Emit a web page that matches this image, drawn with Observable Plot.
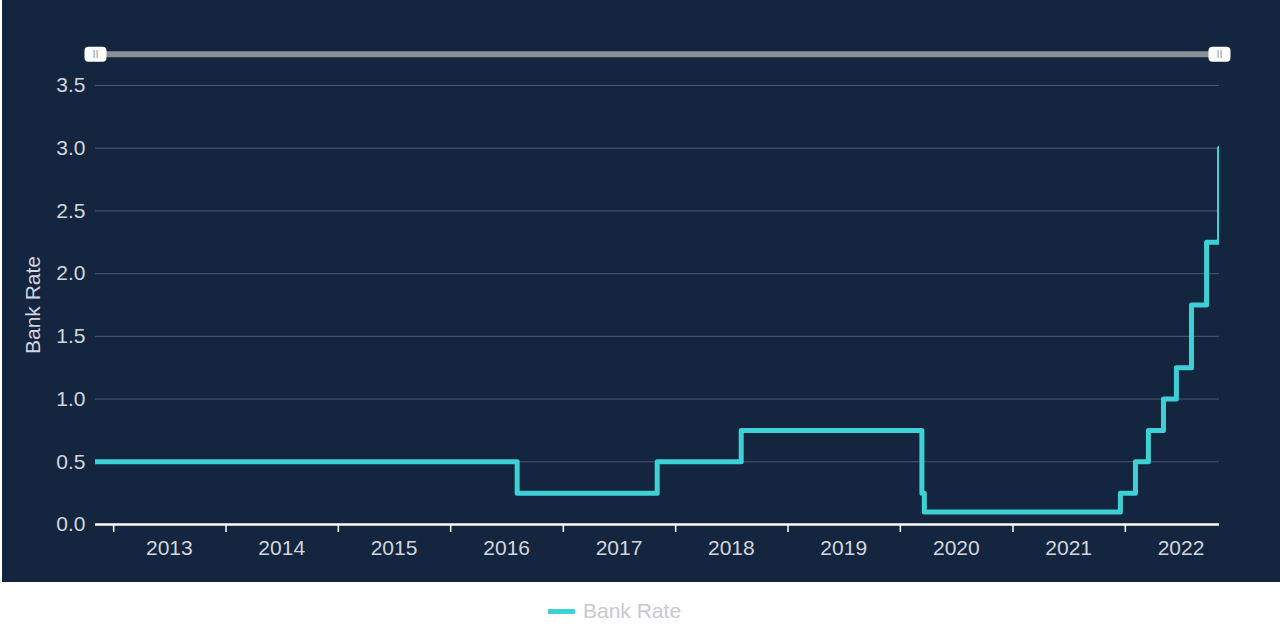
<!DOCTYPE html>
<html>
<head>
<meta charset="utf-8">
<script src="https://cdn.jsdelivr.net/npm/d3@7"></script>
<script src="https://cdn.jsdelivr.net/npm/@observablehq/plot@0.6"></script>
<style>
  html, body { margin: 0; padding: 0; background: #ffffff; }
  body { width: 1280px; height: 640px; position: relative; overflow: hidden; font-family: "Liberation Sans", Arial, sans-serif; }
  #panel { position: absolute; left: 2px; top: 0; width: 1278px; height: 582px; background: #14253f; }
  #legend { position: absolute; left: 548px; top: 599px; display: flex; align-items: center; font-size: 21px; color: #c6c9cf; }
  #legend .sw { display: inline-block; width: 27px; height: 5px; background: #3dd0d4; margin-right: 8px; border-radius: 1px; }
</style>
</head>
<body>
<div id="panel"></div>
<div id="legend"><span class="sw"></span><span>Bank Rate</span></div>
<script>
// Bank Rate change dates and values
const changeDates = ["2009-03-05","2016-08-04","2017-11-02","2018-08-02","2020-03-11","2020-03-19","2021-12-16","2022-02-03","2022-03-17","2022-05-05","2022-06-16","2022-08-04","2022-09-22","2022-11-03"];
const rates = [0.5,0.25,0.5,0.75,0.25,0.1,0.25,0.5,0.75,1.0,1.25,1.75,2.25,3.0];
const xDomain = ["2012-11-03","2022-11-03"];
const yTicks = [0,0.5,1.0,1.5,2.0,2.5,3.0,3.5];
const yearTicks = [2013,2014,2015,2016,2017,2018,2019,2020,2021,2022];
const sliderLevel = 3.75;
const seriesName = "Bank Rate";

const parse = d3.utcParse("%Y-%m-%d");
const data = changeDates.map((d, i) => ({date: parse(d), rate: rates[i]}));
const domain = xDomain.map(parse);
const yearStarts = yearTicks.map(y => new Date(Date.UTC(y, 0, 1)));
const yearMids = yearTicks.map(y => new Date(Date.UTC(y, 6, 1)));
const handles = domain.map(d => ({date: d}));

const handleSymbol = {
  draw(ctx) {
    const w = 22, h = 15, r = 4, x0 = -w/2, y0 = -h/2, x1 = w/2, y1 = h/2;
    ctx.moveTo(x0 + r, y0);
    ctx.lineTo(x1 - r, y0);
    ctx.arcTo(x1, y0, x1, y0 + r, r);
    ctx.lineTo(x1, y1 - r);
    ctx.arcTo(x1, y1, x1 - r, y1, r);
    ctx.lineTo(x0 + r, y1);
    ctx.arcTo(x0, y1, x0, y1 - r, r);
    ctx.lineTo(x0, y0 + r);
    ctx.arcTo(x0, y0, x0 + r, y0, r);
    ctx.closePath();
  }
};

const textColor = "#d3d6dc";
const plot = Plot.plot({
  width: 1278,
  height: 582,
  marginLeft: 93,
  marginRight: 61,
  marginTop: 85,
  marginBottom: 58,
  style: {background: "transparent", color: textColor, fontFamily: "'Liberation Sans', Arial, sans-serif", fontSize: "21px", overflow: "visible"},
  x: {type: "utc", domain},
  y: {domain: [0, 3.5]},
  marks: [
    Plot.gridY(yTicks.filter(d => d > 0), {stroke: "#4b5b6f", strokeOpacity: 1, strokeWidth: 1}),
    Plot.axisY(yTicks, {tickSize: 0, tickPadding: 10, tickFormat: d3.format(".1f"), fontSize: 21, fill: textColor, label: null}),
    Plot.text([seriesName], {frameAnchor: "left", textAnchor: "middle", dx: -62, rotate: -90, fontSize: 21, fill: textColor}),
    Plot.axisX(yearStarts, {tickSize: 8, tickFormat: () => "", stroke: "#ffffff", strokeWidth: 1.5, strokeOpacity: 1, label: null}),
    Plot.axisX(yearMids, {tickSize: 0, tickPadding: 16, tickFormat: d3.utcFormat("%Y"), fontSize: 21, fill: textColor, label: null}),
    Plot.ruleY([0], {stroke: "#ffffff", strokeWidth: 2.5}),
    Plot.line(data, {x: "date", y: "rate", curve: "step-after", stroke: "#3dd0d4", strokeWidth: 5, clip: true, strokeLinejoin: "round"}),
    Plot.ruleY([sliderLevel], {x1: () => domain[0], x2: () => domain[1], stroke: "#8b9097", strokeWidth: 6}),
    Plot.dot(handles, {x: "date", y: () => sliderLevel, symbol: handleSymbol, fill: "#ffffff", stroke: "none"}),
    Plot.text(handles, {x: "date", y: () => sliderLevel, text: () => "II", fontSize: 11, fill: "#9a9ea4"})
  ]
});
document.getElementById("panel").appendChild(plot);
</script>
</body>
</html>
